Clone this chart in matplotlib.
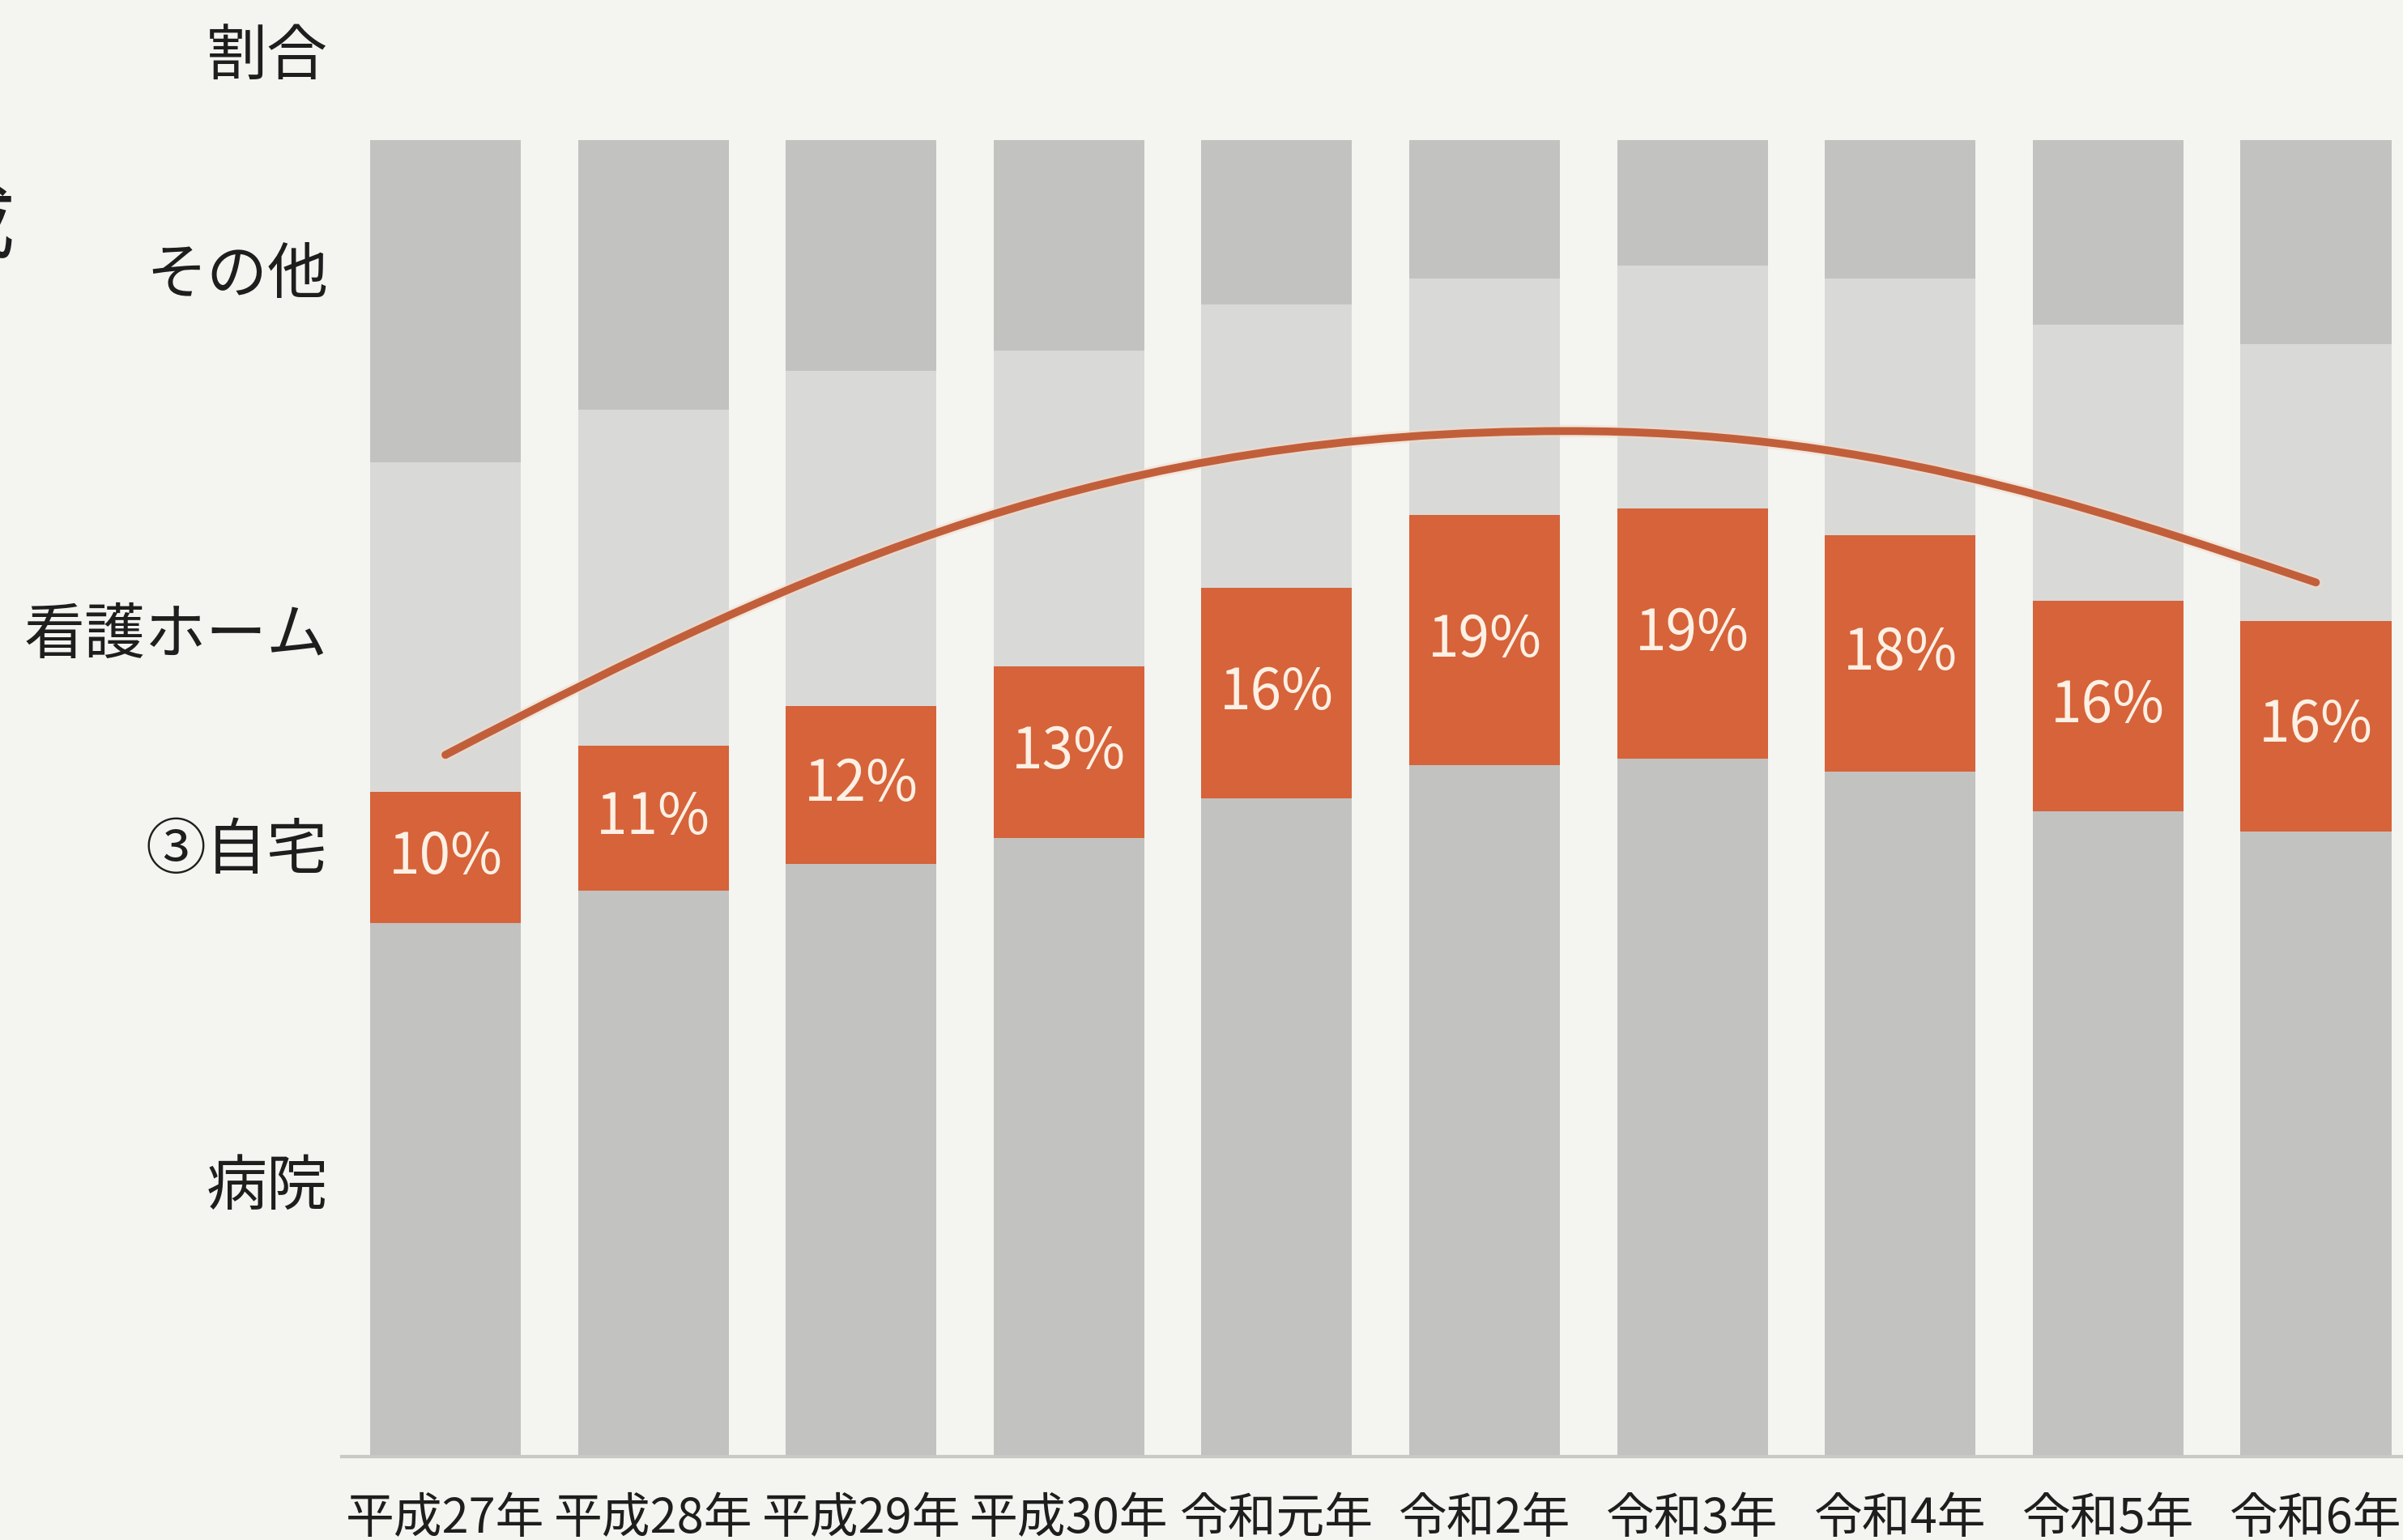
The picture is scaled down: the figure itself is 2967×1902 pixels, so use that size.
import matplotlib
matplotlib.use("Agg")
import matplotlib.pyplot as plt
import matplotlib.patheffects as pe
import numpy as np
from matplotlib.path import Path
from matplotlib.patches import PathPatch

plt.rcParams['font.family'] = ['Noto Sans CJK JP', 'DejaVu Sans']

# 年度ごとの死亡場所の割合 (%)
years = ['平成27年', '平成28年', '平成29年', '平成30年', '令和元年',
         '令和2年', '令和3年', '令和4年', '令和5年', '令和6年']
hospital = [40.5, 43, 45, 47, 50, 52.5, 53, 52, 49, 47.5]
home = [10, 11, 12, 13, 16, 19, 19, 18, 16, 16]
nursing_home = [25, 25.5, 25.5, 24, 21.5, 18, 18.5, 19.5, 21, 21]
other = [24.5, 20.5, 17.5, 16, 12.5, 10.5, 9.5, 10.5, 14, 15.5]

row_labels = ['割合', 'その他', '看護ホーム', '③自宅', '病院']
row_label_y = [0.963, 0.821, 0.587, 0.447, 0.229]

# trend arc over the 自宅 boxes (bezier control points, data coords)
trend_ctrl = [(0, 53.3), (1.8, 68.1), (3.2, 77.9), (5.4, 77.9),
              (6.8, 77.9), (7.8, 72.8), (9, 66.4)]

bg = '#f4f4f0'
c_dark = '#c2c2c0'
c_light = '#d9d9d8'
c_orange = '#d6633a'
c_arc = '#c25f3b'

fig = plt.figure(figsize=(29.67, 19.02), dpi=100, facecolor=bg)
ax = fig.add_axes([0.1422, 0.0542, 0.8578, 0.8548])
ax.set_facecolor(bg)

x = np.arange(len(years))
w = 0.725
h = np.array(hospital)
m = np.array(home)
n = np.array(nursing_home)
o = np.array(other)

ax.bar(x, h, w, color=c_dark, linewidth=0, zorder=2)
ax.bar(x, m, w, bottom=h, color=c_orange, linewidth=0, zorder=3)
ax.bar(x, n, w, bottom=h + m, color=c_light, linewidth=0, zorder=2)
ax.bar(x, o, w, bottom=h + m + n, color=c_dark, linewidth=0, zorder=2)

for xi, bi, vi in zip(x, h, m):
    ax.text(xi, bi + vi / 2, f'{vi}%', ha='center', va='center',
            fontsize=50, color='#fdf0e4', fontweight='normal', zorder=5)

codes = [Path.MOVETO] + [Path.CURVE4] * (len(trend_ctrl) - 1)
arc = PathPatch(Path(trend_ctrl, codes), facecolor='none', edgecolor=c_arc,
                linewidth=7, capstyle='round', zorder=4)
arc.set_path_effects([pe.Stroke(linewidth=11, foreground='#f3d9c8', alpha=0.5),
                      pe.Normal()])
ax.add_patch(arc)

ax.set_xlim(-0.499, 9.419)
ax.set_ylim(0, 100)
ax.set_yticks([])
ax.set_xticks(x)
ax.set_xticklabels(years, fontsize=43, color='#1e1e1e')
ax.tick_params(axis='x', length=0, pad=34)
for s in ['top', 'right', 'left']:
    ax.spines[s].set_visible(False)
ax.spines['bottom'].set_color('#c8c8c6')
ax.spines['bottom'].set_linewidth(3)

for lab, yy in zip(row_labels, row_label_y):
    fig.text(0.1365, yy, lab, ha='right', va='center', fontsize=54,
             color='#1e1e1e')

# cut-off heading at the left edge
fig.text(0.006, 0.852, '成', ha='right', va='center', fontsize=74,
         color='#1e1e1e')

fig.savefig('out.png', dpi=100, facecolor=bg)
